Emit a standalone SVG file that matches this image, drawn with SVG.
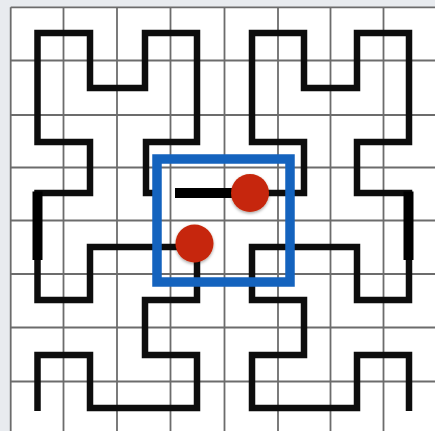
<svg xmlns="http://www.w3.org/2000/svg" width="435" height="431" viewBox="0 0 435 431">
  <defs>
    <style>
      .grid line { stroke: #6c6c6c; stroke-width: 1.8; }
      .curve { fill: none; stroke: #0d0d0d; stroke-width: 6.5; stroke-linejoin: miter; stroke-linecap: butt; }
      .thick { stroke: #000; stroke-width: 10; stroke-linecap: butt; }
      .dot { fill: #c62808; filter: url(#shadow); }
    </style>
    <filter id="shadow" x="-30%" y="-30%" width="160%" height="170%">
      <feDropShadow dx="0" dy="1.5" stdDeviation="1.5" flood-color="#000" flood-opacity="0.35"/>
    </filter>
  </defs>

  <rect x="0" y="0" width="435" height="431" fill="#e8ebef"/>
  <rect x="10.7" y="7.3" width="430" height="430" fill="#ffffff"/>

  <g id="grid" class="grid">
    <line x1="10.7" y1="7.3" x2="10.7" y2="431"/>
    <line x1="63.5" y1="7.3" x2="63.5" y2="431"/>
    <line x1="117" y1="7.3" x2="117" y2="431"/>
    <line x1="170.5" y1="7.3" x2="170.5" y2="431"/>
    <line x1="224.5" y1="7.3" x2="224.5" y2="431"/>
    <line x1="278" y1="7.3" x2="278" y2="431"/>
    <line x1="330.5" y1="7.3" x2="330.5" y2="431"/>
    <line x1="383.5" y1="7.3" x2="383.5" y2="431"/>
    <line x1="10.7" y1="7.3" x2="435" y2="7.3"/>
    <line x1="10.7" y1="60.5" x2="435" y2="60.5"/>
    <line x1="10.7" y1="115" x2="435" y2="115"/>
    <line x1="10.7" y1="167.5" x2="435" y2="167.5"/>
    <line x1="10.7" y1="220.5" x2="435" y2="220.5"/>
    <line x1="10.7" y1="274" x2="435" y2="274"/>
    <line x1="10.7" y1="327.5" x2="435" y2="327.5"/>
    <line x1="10.7" y1="381.5" x2="435" y2="381.5"/>
  </g>

  <g id="connectors">
    <path id="curve-left" class="curve" d="M37.5,411 V355 H90 V408 H197 V355 H145 V300 H197 V247 H90 V300 H37.5 V193 H90 V142 H37.5 V33 H90 V88 H145 V33 H197 V142 H146 V193 H160"/>
    <path id="curve-right" class="curve" d="M266,193 H304 V142 H252 V33 H304 V88 H357 V33 H409 V142 H357 V193 H409 V300 H357 V247 H252 V300 H304 V355 H252 V408 H357 V355 H409 V411"/>
    <line id="thick-left" class="thick" x1="37.5" y1="191.5" x2="37.5" y2="260"/>
    <line id="thick-right" class="thick" x1="408.5" y1="191.5" x2="408.5" y2="260"/>
    <line id="thick-middle" class="thick" x1="175" y1="193" x2="268" y2="193"/>
  </g>

  <g id="box">
    <rect x="157" y="159" width="133" height="123" fill="none" stroke="#1463be" stroke-width="9.5"/>
  </g>

  <g id="dot-1">
    <circle class="dot" cx="250" cy="193" r="19"/>
  </g>
  <g id="dot-2">
    <circle class="dot" cx="194.5" cy="243.5" r="19"/>
  </g>
</svg>
